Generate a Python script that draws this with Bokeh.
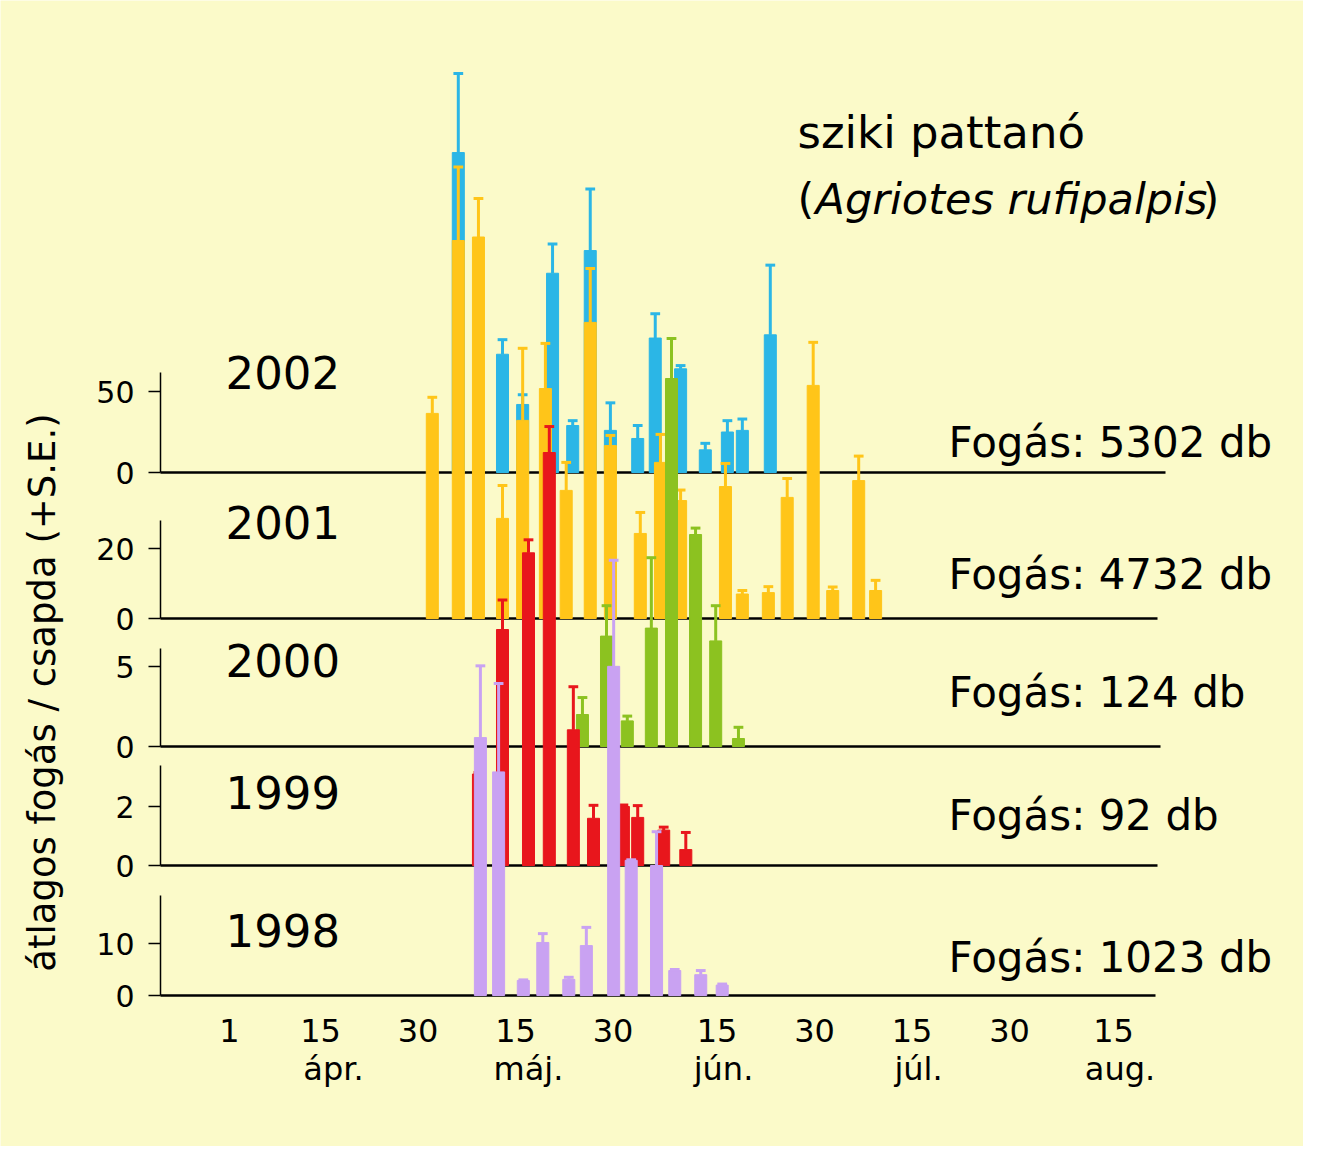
from bokeh.plotting import figure
from bokeh.models import Range1d
from bokeh.core.properties import value
from bokeh.embed import file_html
from bokeh.resources import INLINE

W, H = 1303, 1146
BG = "#fbfac9"
FONT = "DejaVu Sans"

# day index: 0 = 1 April
x_ticks = [0, 14, 29, 44, 59, 75, 90, 105, 120, 136]
x_tick_labels = ["1", "15", "30", "15", "30", "15", "30", "15", "30", "15"]
month_pos = [16, 46, 76, 106, 137]
month_labels = ["ápr.", "máj.", "jún.", "júl.", "aug."]

def d(px):
    return round((px - 229) / 6.5, 1)

# 2002 (blue)
d02 = [d(v) for v in [458, 502, 522, 552, 572, 590, 610, 637, 655, 680, 705, 727, 742, 770]]
v02 = [197.5, 73, 42, 123, 29, 137, 26, 21, 83, 64, 14, 25, 26, 85]
s02 = [48.8, 9, 6, 18, 3, 38, 17, 8, 15, 2, 4, 7, 7, 43]
# 2001 (orange)
d01 = [d(v) for v in [432, 458, 478, 502, 522, 545, 566, 590, 610, 640, 660, 680, 725, 742, 768, 787, 813, 832, 858, 875]]
v01 = [58.6, 108, 109, 28.6, 56.6, 65.7, 36.6, 84.6, 49.4, 24.3, 44.6, 33.7, 37.7, 7, 7.4, 34.6, 66.6, 8, 39.4, 8]
s01 = [4.6, 21, 11, 9.4, 20.6, 12.9, 8, 15.4, 2.9, 6, 8, 3, 6.6, 1, 1.7, 5.4, 12.3, 1, 7, 2.9]
# 2000 (green)
d00 = [d(v) for v in [582, 606, 627, 651, 671, 695, 715, 738]]
v00 = [2.0, 6.9, 1.6, 7.4, 23, 13.25, 6.6, 0.5]
s00 = [1.06, 1.9, 0.3, 4.4, 2.5, 0.4, 2.2, 0.7]
# 1999 (red)
d99 = [d(v) for v in [478, 502, 528, 549, 573, 593, 623, 637, 663, 685]]
v99 = [3.1, 8.0, 10.6, 14.0, 4.6, 1.6, 2.0, 1.63, 1.2, 0.54]
s99 = [0.05, 1.0, 0.44, 0.88, 1.46, 0.44, 0.05, 0.4, 0.1, 0.58]
# 1998 (lavender)
d98 = [d(v) for v in [480, 498, 523, 542, 568, 586, 613, 631, 656, 674, 700, 722]]
v98 = [49.6, 43, 2.9, 10.2, 3.1, 9.6, 63.3, 26, 25, 4.8, 4, 2]
s98 = [13.8, 17, 0.1, 1.7, 0.4, 3.5, 20.4, 0.1, 6.5, 0.2, 0.8, 0.2]

years = ["2002", "2001", "2000", "1999", "1998"]
catch = ["Fogás: 5302 db", "Fogás: 4732 db", "Fogás: 124 db", "Fogás: 92 db", "Fogás: 1023 db"]
yticks = [[0, 50], [0, 20], [0, 5], [0, 2], [0, 10]]
colors = ["#2bb6e6", "#ffc519", "#8cc220", "#e8161c", "#c9a2f2"]
series = [(d02, v02, s02), (d01, v01, s01), (d00, v00, s00), (d99, v99, s99), (d98, v98, s98)]

base_img = [472, 618, 746, 865, 995]
ppu = [1.62, 3.5, 16.0, 29.5, 5.2]
top_img = [372, 520, 648, 765, 895]
line_end = [1165, 1157, 1160, 1157, 1155]
label_img = [372, 522, 660, 792, 930]
catch_img = [442, 574, 692, 815, 957]

def Y(img_y):
    return H - img_y

x0 = -229 / 6.5
x1 = x0 + W / 6.5
def X(img_x):
    return (img_x - 229) / 6.5

p = figure(width=W, height=H, output_backend="svg", toolbar_location=None,
           x_range=Range1d(x0, x1), y_range=Range1d(0, H),
           x_axis_type=None, y_axis_type=None, min_border=0)
p.background_fill_color = BG
p.border_fill_color = BG
p.outline_line_color = None
p.grid.visible = False

for i in range(5):
    name = "y%d" % i
    start = -Y(base_img[i]) / ppu[i]
    p.extra_y_ranges[name] = Range1d(start, start + H / ppu[i])

for i in range(5):
    name = "y%d" % i
    p.line([X(160), X(160)], [0, (base_img[i] - top_img[i]) / ppu[i]], y_range_name=name, color="black", line_width=1.5)
    p.line([X(160), X(line_end[i])], [0, 0], y_range_name=name, color="black", line_width=2.5)
    for t in yticks[i]:
        p.line([X(148), X(160)], [t, t], y_range_name=name, color="black", line_width=1.5)
    p.text(x=[X(134)] * len(yticks[i]), y=yticks[i], text=[str(t) for t in yticks[i]],
           y_range_name=name, text_align="right", text_baseline="middle",
           text_font=value(FONT), text_font_size="30px")

for i in range(5):
    name = "y%d" % i
    dd, vv, ss = series[i]
    c = colors[i]
    p.vbar(x=dd, width=1.85, bottom=0, top=vv, y_range_name=name, color=c)
    p.segment(x0=dd, x1=dd, y0=vv, y1=[a + b for a, b in zip(vv, ss)], y_range_name=name, color=c, line_width=3)
    p.segment(x0=[a - 0.75 for a in dd], x1=[a + 0.75 for a in dd],
              y0=[a + b for a, b in zip(vv, ss)], y1=[a + b for a, b in zip(vv, ss)],
              y_range_name=name, color=c, line_width=3)

p.text(x=[X(225)] * 5, y=[Y(v) for v in label_img], text=years, text_baseline="middle",
       text_font=value(FONT), text_font_size="45px")
p.text(x=[X(948)] * 5, y=[Y(v) for v in catch_img], text=catch, text_baseline="middle",
       text_font=value(FONT), text_font_size="42px")

p.text(x=x_ticks, y=[Y(1030)] * len(x_ticks), text=x_tick_labels, text_align="center",
       text_baseline="middle", text_font=value(FONT), text_font_size="32px")
p.text(x=month_pos, y=[Y(1068)] * len(month_pos), text=month_labels, text_align="center",
       text_baseline="middle", text_font=value(FONT), text_font_size="32px")

p.text(x=[X(797)], y=[Y(132)], text=["sziki pattanó"], text_baseline="middle",
       text_font=value(FONT), text_font_size="45px")
p.text(x=[X(797)], y=[Y(198)], text=["("], text_baseline="middle",
       text_font=value(FONT), text_font_size="43px")
p.text(x=[X(815)], y=[Y(198)], text=["Agriotes rufipalpis"], text_baseline="middle",
       text_font=value(FONT), text_font_style="italic", text_font_size="43px")
p.text(x=[X(1202)], y=[Y(198)], text=[")"], text_baseline="middle",
       text_font=value(FONT), text_font_size="43px")

p.text(x=[X(42)], y=[Y(692)], text=["átlagos fogás / csapda (+S.E.)"], angle=1.5708,
       text_align="center", text_baseline="middle", text_font=value(FONT), text_font_size="37px")

open("out.html", "w").write(file_html(p, INLINE))
